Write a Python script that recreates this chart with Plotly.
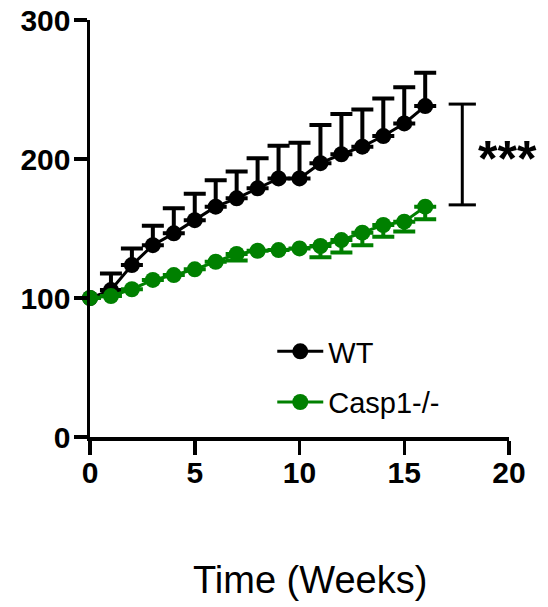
import plotly.graph_objects as go

weeks = list(range(17))
wt_mean = [100, 105.7, 123.7, 138, 146.5, 156, 165.7, 171.7, 178.9, 186, 186, 197, 203.4, 208.9, 216.5, 225.6, 238.1]
wt_err_up = [0, 12, 12, 14, 18, 19, 19, 19.3, 21.6, 23.5, 25.7, 27.5, 29, 26.8, 27.1, 26, 24]
ko_mean = [100, 101.4, 106.3, 113, 116.5, 120.6, 126.1, 131.7, 134, 134.5, 135.7, 137.4, 141.7, 147, 152.5, 154.9, 165.7]
ko_err_down = [0, 0, 0, 0, 0, 0, 0, 4.7, 0, 0, 0, 8, 9, 9, 8.5, 7, 9]
zeros = [0] * 17

x_ticks = [0, 5, 10, 15, 20]
y_ticks = [0, 100, 200, 300]

# significance bracket (data coords)
sig_x = 17.77
sig_low, sig_high = 167, 239.5
sig_half = 0.65

FONT = "Liberation Sans, Arial, sans-serif"

fig = go.Figure()
fig.add_trace(go.Scatter(
    x=weeks, y=wt_mean, name="WT", mode="lines+markers",
    line=dict(color="black", width=3),
    marker=dict(color="black", size=16),
    error_y=dict(type="data", symmetric=False, array=wt_err_up, arrayminus=zeros,
                 color="black", thickness=4, width=11),
    cliponaxis=False, legendgroup="a",
))
fig.add_trace(go.Scatter(
    x=weeks, y=ko_mean, name="Casp1-/-", mode="lines+markers",
    line=dict(color="#008000", width=3),
    marker=dict(color="#008000", size=16),
    error_y=dict(type="data", symmetric=False, array=zeros, arrayminus=ko_err_down,
                 color="#008000", thickness=4, width=11),
    cliponaxis=False, legendgroup="b",
))

for shp in [
    dict(x0=sig_x, x1=sig_x, y0=sig_low, y1=sig_high),
    dict(x0=sig_x - sig_half, x1=sig_x + sig_half, y0=sig_low, y1=sig_low),
    dict(x0=sig_x - sig_half, x1=sig_x + sig_half, y0=sig_high, y1=sig_high),
]:
    fig.add_shape(type="line", xref="x", yref="y", line=dict(color="black", width=3), **shp)

fig.add_annotation(x=18.42, y=200, xref="x", yref="y", text="<b>***</b>", showarrow=False,
                   xanchor="left", yanchor="middle", font=dict(family=FONT, size=50, color="black"))

fig.add_annotation(x=0.525, y=-0.343, xref="paper", yref="paper", text="Time (Weeks)",
                   showarrow=False, xanchor="center", yanchor="middle",
                   font=dict(family=FONT, size=38, color="black"))

fig.update_layout(
    width=548, height=607,
    margin=dict(l=90, r=39, t=20, b=170, autoexpand=False),
    plot_bgcolor="white", paper_bgcolor="white",
    hovermode=False,
    font=dict(family=FONT, color="black"),
    legend=dict(x=0.435, y=0.144, xanchor="left", yanchor="middle", itemwidth=46,
                font=dict(family=FONT, size=29, color="black"),
                bgcolor="rgba(0,0,0,0)", tracegroupgap=10),
    xaxis=dict(range=[0, 20], tickvals=x_ticks, ticktext=[f"<b>{v}</b>" for v in x_ticks],
               showline=True, linecolor="black", linewidth=3.5, ticks="outside",
               ticklen=14, tickwidth=3.5, tickcolor="black", showgrid=False, zeroline=False,
               ticklabelstandoff=-8, ticklabeloverflow="allow",
               automargin=False, tickfont=dict(family=FONT, size=30, color="black")),
    yaxis=dict(range=[0, 300], tickvals=y_ticks, ticktext=[f"<b>{v}</b>" for v in y_ticks],
               showline=True, linecolor="black", linewidth=3.5, ticks="outside",
               ticklen=13, tickwidth=3.5, tickcolor="black", showgrid=False, zeroline=False,
               ticklabelstandoff=-3, ticklabeloverflow="allow",
               automargin=False, tickfont=dict(family=FONT, size=30, color="black")),
)

fig.write_html("out.html", config={"displayModeBar": False, "staticPlot": True},
               post_script="document.body.style.margin='0';document.body.style.overflow='hidden';")
